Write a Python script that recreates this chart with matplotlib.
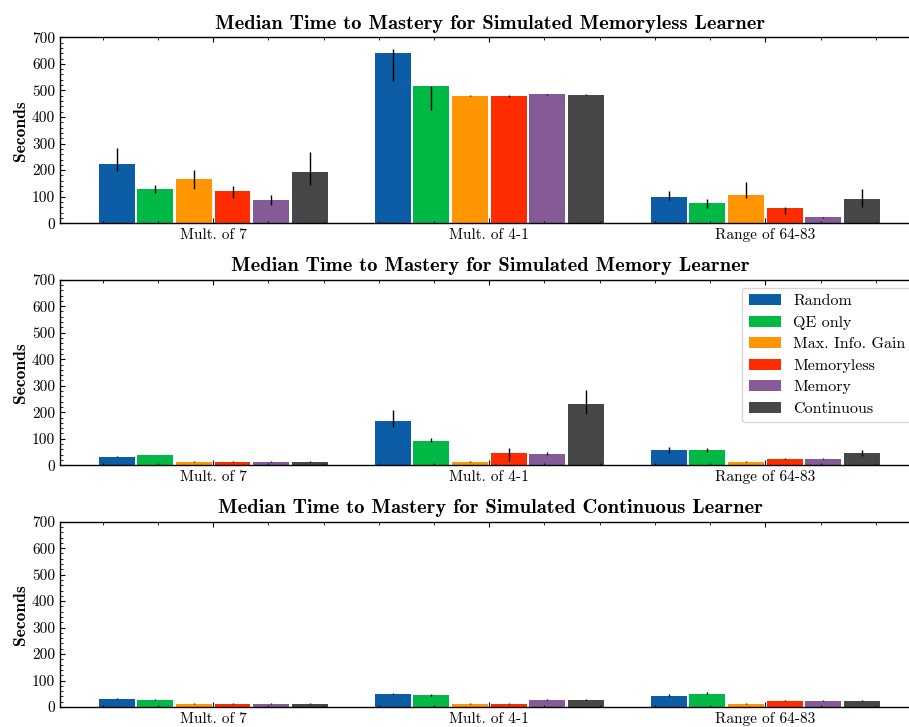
import numpy as np
import matplotlib
matplotlib.use("Agg")
import matplotlib.pyplot as plt
from matplotlib.ticker import AutoMinorLocator

# median time to mastery, one panel per simulated learner
categories = ["Mult. of 7", "Mult. of 4-1", "Range of 64-83"]
policies = ["Random", "QE only", "Max. Info. Gain", "Memoryless", "Memory", "Continuous"]
colors = ["#0C5DA5", "#00B945", "#FF9500", "#FF2C00", "#845B97", "#474747"]

titles = [
    "Median Time to Mastery for Simulated Memoryless Learner",
    "Median Time to Mastery for Simulated Memory Learner",
    "Median Time to Mastery for Simulated Continuous Learner",
]

# rows = policy, cols = category
memoryless_med = [[222, 641, 98], [128, 517, 75], [166, 479, 106],
                  [121, 479, 57], [87, 486, 23], [192, 483, 90]]
memoryless_lo = [[196, 537, 87], [114, 426, 57], [129, 478, 94],
                 [94, 477, 34], [70, 484, 21], [143, 482, 60]]
memoryless_hi = [[283, 655, 121], [143, 517, 90], [202, 481, 155],
                 [139, 481, 60], [106, 488, 25], [268, 485, 128]]

memory_med = [[31, 167, 58], [39, 92, 58], [14, 14, 14],
              [14, 48, 24], [14, 44, 24], [14, 231, 48]]
memory_lo = [[30, 143, 48], [38, 88, 50], [13, 13, 13],
             [13, 18, 22], [13, 40, 22], [13, 195, 36]]
memory_hi = [[36, 209, 68], [40, 103, 65], [15, 15, 15],
             [15, 65, 27], [15, 50, 27], [15, 285, 57]]

continuous_med = [[30, 50, 42], [26, 45, 50], [13, 13, 13],
                  [13, 13, 24], [13, 28, 24], [13, 28, 24]]
continuous_lo = [[29, 48, 40], [25, 43, 48], [12, 12, 12],
                 [12, 12, 23], [12, 27, 23], [12, 27, 23]]
continuous_hi = [[33, 53, 49], [30, 50, 55], [14, 14, 14],
                 [14, 14, 26], [14, 30, 26], [14, 30, 26]]

panels = [
    (memoryless_med, memoryless_lo, memoryless_hi),
    (memory_med, memory_lo, memory_hi),
    (continuous_med, continuous_lo, continuous_hi),
]

plt.rcParams.update({
    "font.family": "cmr10",
    "axes.unicode_minus": False,
    "font.size": 11,
    "xtick.direction": "in",
    "ytick.direction": "in",
    "xtick.top": True,
    "ytick.right": True,
    "xtick.major.size": 3.5,
    "ytick.major.size": 3.5,
    "xtick.minor.size": 1.8,
    "ytick.minor.size": 1.8,
    "xtick.minor.visible": True,
    "ytick.minor.visible": True,
    "axes.linewidth": 1.0,
})

fig = plt.figure(figsize=(9.09, 7.27), dpi=100)
# axes run a little past the right edge, as in the original crop
rects = [
    [0.066, 0.6929, 0.946, 0.2558],
    [0.066, 0.3600, 0.946, 0.2553],
    [0.066, 0.0275, 0.946, 0.2549],
]

x = np.arange(len(categories))
step = 0.14
width = 0.13

for k, (med, lo, hi) in enumerate(panels):
    ax = fig.add_axes(rects[k])
    med = np.array(med, dtype=float)
    lo = np.array(lo, dtype=float)
    hi = np.array(hi, dtype=float)
    for i, name in enumerate(policies):
        pos = x + (i - 2.5) * step
        yerr = np.vstack([med[i] - lo[i], hi[i] - med[i]])
        ax.bar(pos, med[i], width, color=colors[i], label=name,
               yerr=yerr, ecolor="black", error_kw=dict(elinewidth=1.0, capsize=0))
    ax.set_xticks(x)
    ax.set_xticklabels(categories)
    ax.xaxis.set_minor_locator(AutoMinorLocator())
    ax.yaxis.set_minor_locator(AutoMinorLocator())
    ax.set_xlim(-0.555, 2.56)
    ax.set_ylim(0, 700)
    ax.set_yticks(range(0, 701, 100))
    ax.set_ylabel("Seconds", family="cmb10", fontsize=12.5, labelpad=3)
    ax.set_title(titles[k], family="cmb10", fontsize=14.8, pad=6)
    if k == 1:
        ax.legend(loc="upper right", fontsize=11.5, labelspacing=0.46)

fig.savefig("out.png", dpi=100)
